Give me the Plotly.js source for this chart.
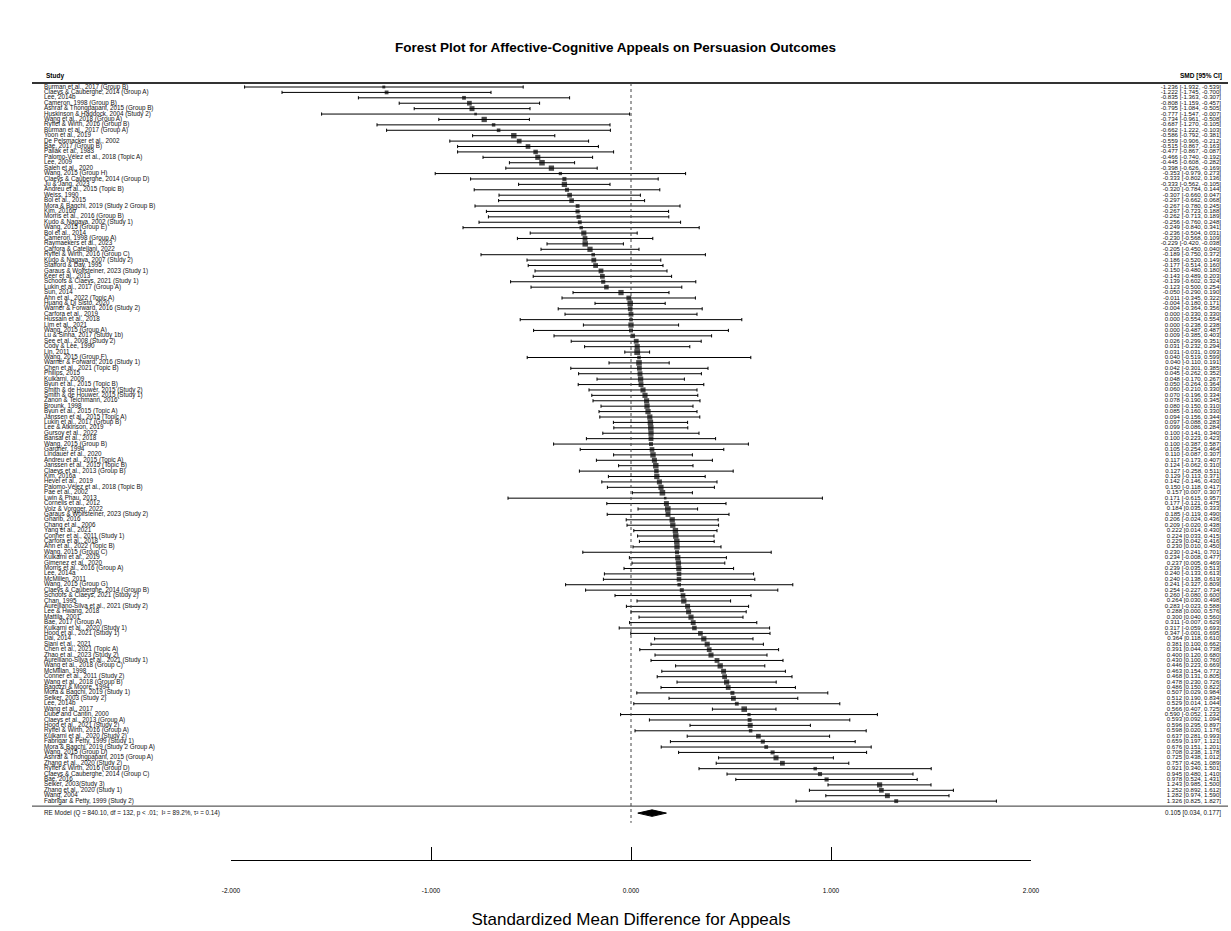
<!DOCTYPE html>
<html><head><meta charset="utf-8">
<script src="https://cdn.plot.ly/plotly-3.0.1.min.js"></script>
<style>html,body{margin:0;padding:0;background:#fff}</style>
</head><body><div id="chart" style="width:1231px;height:931px"></div>
<script>
const studies = [
"Burman et al., 2017 (Group B)","Claeys & Cauberghe, 2014 (Group A)","Lee, 2014b","Cameron, 1998 (Group B)","Ashraf & Thongpapanl, 2015 (Group B)",
"Huskinson & Haddock, 2004 (Study 2)","Wang et al., 2018 (Group A)","Ryffel & Wirth, 2016 (Group B)","Burman et al., 2017 (Group A)","Yoon et al., 2019",
"De Pelsmacker et al., 2002","Bae, 2017 (Group B)","Pallak et al., 1983","Palomo-Vélez et al., 2018 (Topic A)","Lee, 2009",
"Saleh et al., 2020","Wang, 2015 (Group H)","Claeys & Cauberghe, 2014 (Group D)","Ju & Jang, 2023","Andreu et al., 2015 (Topic B)",
"Weiss, 1990","Bol et al., 2015","Mora & Bagchi, 2019 (Study 2 Group B)","Kim, 2016b","Morris et al., 2016 (Group B)",
"Kudo & Nagaya, 2002 (Study 1)","Wang, 2015 (Group E)","Bol et al., 2014","Cameron, 1998 (Group A)","Raymaekers et al., 2023",
"Carfora & Catellani, 2022","Ryffel & Wirth, 2016 (Group C)","Kudo & Nagaya, 2007 (Study 2)","Stafford & Day, 1995","Garaus & Wolfsteiner, 2023 (Study 1)",
"Keer et al., 2013","Schoofs & Claeys, 2021 (Study 1)","Lukin et al., 2017 (Group A)","Sun, 2014","Ahn et al., 2022 (Topic A)",
"Huang & Di Sisto, 2020","Warner & Forward, 2016 (Study 2)","Carfora et al., 2019","Hussain et al., 2018","Lim et al., 2021",
"Wang, 2015 (Group A)","Lu & Sinha, 2017 (Study 1b)","See et al., 2008 (Study 2)","Cody & Lee, 1990","Lin, 2011",
"Wang, 2015 (Group F)","Warner & Forward, 2016 (Study 1)","Chen et al., 2021 (Topic B)","Philips, 2015","Kulkarni, 2009",
"Byun et al., 2015 (Topic B)","Smith & de Houwer, 2015 (Study 2)","Smith & de Houwer, 2015 (Study 1)","Zanon & Teichmann, 2016","Brounk, 1998",
"Byun et al., 2015 (Topic A)","Janssen et al., 2015 (Topic A)","Lukin et al., 2017 (Group B)","Lee & Atkinson, 2019","Gursoy et al., 2022",
"Bansal et al., 2018","Wang, 2015 (Group B)","Gardner, 1994","Lindauer et al., 2020","Andreu et al., 2015 (Topic A)",
"Janssen et al., 2015 (Topic B)","Claeys et al., 2013 (Group B)","Kim, 2016a","Hevel et al., 2019","Palomo-Vélez et al., 2018 (Topic B)",
"Pae et al., 2002","Lwin & Phau, 2013","Cornelis et al., 2012","Volz & Vorgger, 2022","Garaus & Wolfsteiner, 2023 (Study 2)",
"Gharib, 2016","Chang et al., 2006","Yang et al., 2021","Conner et al., 2011 (Study 1)","Carfora et al., 2018",
"Ahn et al., 2022 (Topic B)","Wang, 2015 (Group C)","Kulkarni et al., 2019","Gimenez et al., 2020","Morris et al., 2016 (Group A)",
"Lee, 2014a","McMillen, 2011","Wang, 2015 (Group G)","Claeys & Cauberghe, 2014 (Group B)","Schoofs & Claeys, 2021 (Study 2)",
"Chan, 1995","Aurelliano-Silva et al., 2021 (Study 2)","Lee & Hwang, 2018","Mattila, 2001","Bae, 2017 (Group A)",
"Kulkarni et al., 2020 (Study 1)","Hood et al., 2021 (Study 1)","Dai, 2014","Siani et al., 2021","Chen et al., 2021 (Topic A)",
"Zhao et al., 2023 (Study 2)","Aurelliano-Silva et al., 2021 (Study 1)","Wang et al., 2018 (Group C)","McMillan, 1998","Conner et al., 2011 (Study 2)",
"Wang et al., 2018 (Group B)","Bagozzi & Moore, 1994","Mora & Bagchi, 2019 (Study 1)","Selker, 2003 (Study 2)","Lee, 2014b",
"Wang et al., 2017","Dubé and Cantin, 2000","Claeys et al., 2013 (Group A)","Hood et al., 2021 (Study 2)","Ryffel & Wirth, 2016 (Group A)",
"Kulkarni et al., 2020 (Study 2)","Fabrigar & Petty, 1999 (Study 1)","Mora & Bagchi, 2019 (Study 2 Group A)","Wang, 2015 (Group D)","Ashraf & Thongpapanl, 2015 (Group A)",
"Zhang et al., 2020 (Study 2)","Ryffel & Wirth, 2016 (Group D)","Claeys & Cauberghe, 2014 (Group C)","Bae, 2016","Selker, 2003(Study 3)",
"Zhang et al., 2020 (Study 1)","Wang, 2004","Fabrigar & Petty, 1999 (Study 2)"
];
const smd = [
-1.236,-1.222,-0.835,-0.808,-0.795,-0.777,-0.734,-0.687,-0.662,-0.586,
-0.559,-0.515,-0.477,-0.466,-0.445,-0.398,-0.353,-0.333,-0.333,-0.320,
-0.307,-0.297,-0.267,-0.267,-0.262,-0.256,-0.249,-0.236,-0.230,-0.229,
-0.205,-0.189,-0.186,-0.177,-0.150,-0.143,-0.139,-0.123,-0.050,-0.011,
-0.004,-0.004,0.000,0.000,0.000,0.000,0.009,0.026,0.031,0.031,
0.040,0.040,0.042,0.045,0.048,0.050,0.060,0.070,0.078,0.080,
0.085,0.094,0.097,0.099,0.100,0.100,0.100,0.105,0.110,0.117,
0.124,0.127,0.129,0.142,0.150,0.157,0.171,0.177,0.184,0.185,
0.206,0.209,0.222,0.224,0.229,0.230,0.230,0.234,0.237,0.239,
0.240,0.240,0.241,0.254,0.260,0.264,0.283,0.288,0.300,0.311,
0.317,0.347,0.364,0.381,0.391,0.400,0.430,0.446,0.463,0.468,
0.478,0.486,0.507,0.512,0.529,0.566,0.590,0.593,0.596,0.598,
0.637,0.659,0.676,0.708,0.725,0.757,0.921,0.945,0.978,1.243,
1.252,1.282,1.326
];
const ciLower = [
-1.932,-1.745,-1.363,-1.159,-1.084,-1.547,-0.961,-1.270,-1.222,-0.792,
-0.906,-0.867,-0.867,-0.740,-0.608,-0.626,-0.979,-0.802,-0.562,-0.784,
-0.660,-0.662,-0.780,-0.723,-0.713,-0.760,-0.840,-0.504,-0.568,-0.420,
-0.450,-0.750,-0.520,-0.514,-0.480,-0.489,-0.602,-0.500,-0.290,-0.345,
-0.180,-0.364,-0.330,-0.554,-0.238,-0.487,-0.385,-0.299,-0.232,-0.031,
-0.519,-0.110,-0.301,-0.262,-0.170,-0.264,-0.210,-0.196,-0.190,-0.150,
-0.160,-0.156,-0.088,-0.086,-0.141,-0.223,-0.387,-0.254,-0.087,-0.173,
-0.062,-0.258,-0.113,-0.146,-0.118,0.007,-0.615,-0.121,0.035,-0.119,
-0.024,-0.020,0.014,0.033,0.042,0.010,-0.241,-0.008,0.005,-0.035,
-0.133,-0.138,-0.327,-0.227,-0.080,0.030,-0.023,0.000,0.040,-0.007,
-0.059,-0.001,0.118,0.100,0.044,0.120,0.100,0.223,0.154,0.131,
0.230,0.150,0.029,0.190,0.014,0.407,-0.052,0.092,0.295,0.020,
0.281,0.197,0.151,0.238,0.438,0.426,0.340,0.480,0.524,0.985,
0.892,0.974,0.825
];
const ciUpper = [
-0.539,-0.700,-0.307,-0.457,-0.505,-0.007,-0.508,-0.105,-0.103,-0.381,
-0.212,-0.163,-0.087,-0.192,-0.282,-0.169,0.273,0.136,-0.105,0.144,
0.047,0.068,0.245,0.188,0.189,0.248,0.341,0.031,0.109,-0.038,
0.040,0.372,0.149,0.160,0.180,0.203,0.324,0.254,0.190,0.322,
0.171,0.356,0.330,0.554,0.238,0.487,0.403,0.351,0.294,0.093,
0.599,0.191,0.385,0.352,0.267,0.364,0.330,0.334,0.345,0.310,
0.330,0.344,0.283,0.284,0.340,0.423,0.587,0.464,0.307,0.407,
0.310,0.511,0.371,0.430,0.417,0.307,0.957,0.475,0.333,0.490,
0.436,0.438,0.430,0.415,0.416,0.450,0.701,0.477,0.469,0.513,
0.613,0.619,0.809,0.734,0.600,0.498,0.588,0.576,0.560,0.629,
0.693,0.695,0.610,0.662,0.738,0.680,0.760,0.669,0.772,0.805,
0.726,0.822,0.984,0.834,1.044,0.725,1.232,1.094,0.897,1.176,
0.993,1.121,1.201,1.178,1.012,1.089,1.501,1.410,1.431,1.500,
1.612,1.590,1.827
];
const reEstimate = [0.105];
const reLower = [0.034];
const reUpper = [0.177];
const reLabel = "RE Model (Q = 840.10, df = 132, p < .01;  I² = 89.2%, τ² = 0.14)";
const tau2 = 0.14;
const tickVals = [-2, -1, 0, 1, 2];
const tickLabels = ["-2.000", "-1.000", "0.000", "1.000", "2.000"];
const chartTitle = "Forest Plot for Affective-Cognitive Appeals on Persuasion Outcomes";
const xTitle = "Standardized Mean Difference for Appeals";

// ---- geometry (pixels) ----
const W = 1231, H = 931;
const zeroPx = 631, pxPerUnit = 200;        // x = 0 at 631 px, 200 px per unit
const row1Px = 87, rowStep = 5.41;          // first study row and spacing
const axisPx = 860, topPx = 66;             // plot area bottom (axis line) and top
const pxToRow = p => 1 + (p - row1Px) / rowStep;
const pxToX = p => (p - zeroPx) / pxPerUnit;
const n = studies.length;
const rows = studies.map((_, i) => i + 1);
const reRow = pxToRow(row1Px + (n - 1) * rowStep + 12);
const labelX = pxToX(44);
const valueX = pxToX(1221);
const fmt = v => v.toFixed(3);
const valueText = smd.map((v, i) => `${fmt(v)} [${fmt(ciLower[i])}, ${fmt(ciUpper[i])}]`);

// marker size from random-effects weights
const w = ciLower.map((lb, i) => { const se = (ciUpper[i] - lb) / 3.92; return 1 / (se * se + tau2); });
const wMin = Math.min(...w), wMax = Math.max(...w);
const sizes = w.map(v => 2.6 + 3.2 * (v - wMin) / (wMax - wMin));

const font = "Liberation Sans, Arial, sans-serif";
const traces = [
  {
    type: 'scatter', mode: 'markers', x: smd, y: rows, xaxis: 'x2', yaxis: 'y',
    marker: {symbol: 'square', color: '#000', size: sizes, line: {width: 0}},
    error_x: {type: 'data', symmetric: false,
      array: ciUpper.map((u, i) => u - smd[i]),
      arrayminus: ciLower.map((l, i) => smd[i] - l),
      color: '#000', thickness: 1, width: 1.6},
    cliponaxis: false, hoverinfo: 'skip', showlegend: false
  },
  {
    type: 'scatter', mode: 'lines', fill: 'toself', fillcolor: '#000', xaxis: 'x2', yaxis: 'y',
    x: [reLower[0], reEstimate[0], reUpper[0], reEstimate[0], reLower[0]],
    y: [reRow, reRow - 0.6, reRow, reRow + 0.6, reRow],
    line: {color: '#000', width: 1}, cliponaxis: false, hoverinfo: 'skip', showlegend: false
  },
  {
    type: 'scatter', mode: 'text', x: rows.map(() => labelX), y: rows, text: studies,
    xaxis: 'x', yaxis: 'y',
    textposition: 'middle right', textfont: {family: font, size: 6.3, color: '#111'},
    cliponaxis: false, hoverinfo: 'skip', showlegend: false
  },
  {
    type: 'scatter', mode: 'text', x: rows.map(() => valueX), y: rows, text: valueText,
    xaxis: 'x', yaxis: 'y',
    textposition: 'middle left', textfont: {family: font, size: 6.1, color: '#111'},
    cliponaxis: false, hoverinfo: 'skip', showlegend: false
  },
  {
    type: 'scatter', mode: 'text', x: [labelX, valueX], y: [reRow, reRow], xaxis: 'x', yaxis: 'y',
    text: [reLabel, `${fmt(reEstimate[0])} [${fmt(reLower[0])}, ${fmt(reUpper[0])}]`],
    textposition: ['middle right', 'middle left'],
    textfont: {family: font, size: 6.3, color: '#111'},
    cliponaxis: false, hoverinfo: 'skip', showlegend: false
  }
];

const headerRow = pxToRow(83);
const sepRow = pxToRow(row1Px + (n - 1) * rowStep + 5);
const layout = {
  width: W, height: H,
  margin: {l: 0, r: 0, t: topPx, b: H - axisPx},
  paper_bgcolor: '#fff', plot_bgcolor: '#fff',
  font: {family: font, color: '#000'},
  title: {text: '<b>' + chartTitle + '</b>', x: 0.5, xanchor: 'center',
    y: 1 - 47 / H, yref: 'container', yanchor: 'middle',
    font: {family: font, size: 13.5, color: '#000'}},
  xaxis: {
    domain: [0, 1], range: [pxToX(0), pxToX(W)], visible: false,
    showgrid: false, zeroline: false, fixedrange: true
  },
  xaxis2: {
    domain: [pxToX(231) * pxPerUnit / W + zeroPx / W, (1031) / W],
    anchor: 'y',
    range: [-2, 2], tickvals: tickVals, ticktext: tickLabels,
    ticks: 'inside', ticklen: 13, tickwidth: 1, tickcolor: '#000',
    showline: true, linecolor: '#000', linewidth: 1,
    showgrid: false, zeroline: false, fixedrange: true,
    tickfont: {family: font, size: 6.5, color: '#000'},
    ticklabelstandoff: 24,
    title: {text: xTitle, font: {family: font, size: 17, color: '#000'}, standoff: 20}
  },
  yaxis: {
    range: [pxToRow(axisPx), pxToRow(topPx)],
    visible: false, showgrid: false, zeroline: false, fixedrange: true
  },
  shapes: [
    {type: 'line', xref: 'paper', yref: 'y', x0: 32 / W, x1: 1228 / W,
      y0: headerRow, y1: headerRow, line: {color: '#333', width: 2}},
    {type: 'line', xref: 'paper', yref: 'y', x0: 32 / W, x1: 1228 / W,
      y0: sepRow, y1: sepRow, line: {color: '#333', width: 1}},
    {type: 'line', xref: 'x2', yref: 'y', x0: 0, x1: 0,
      y0: headerRow, y1: reRow + 1.8, line: {color: '#444', width: 1, dash: 'dot'}}
  ],
  annotations: [
    {text: '<b>Study</b>', xref: 'paper', yref: 'y', x: 44 / W, y: pxToRow(76),
      xanchor: 'left', yanchor: 'middle', showarrow: false, font: {family: font, size: 6.5, color: '#000'}},
    {text: '<b>SMD [95% CI]</b>', xref: 'paper', yref: 'y', x: 1224 / W, y: pxToRow(76),
      xanchor: 'right', yanchor: 'middle', showarrow: false, font: {family: font, size: 6.5, color: '#000'}}
  ]
};
Plotly.newPlot('chart', traces, layout, {staticPlot: true, displayModeBar: false});
</script>
</body></html>
